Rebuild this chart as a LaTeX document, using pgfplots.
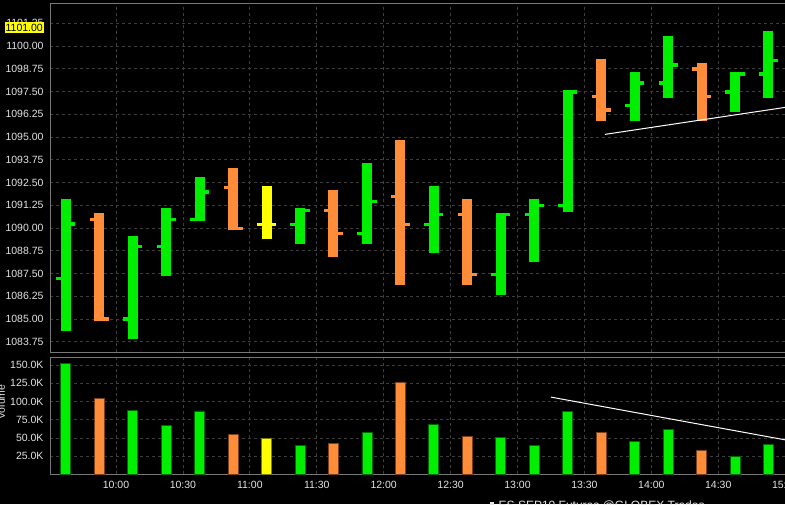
\documentclass[border=0pt]{standalone}
\usepackage{pgfplots}
\pgfplotsset{compat=1.18}
\usepackage{pgfplotstable}
\usepackage{fontspec}
\setmainfont{Liberation Sans}
\definecolor{cgreen}{RGB}{0,238,0}
\definecolor{cgreenD}{RGB}{0,105,0}
\definecolor{corange}{RGB}{255,140,56}
\definecolor{corangeD}{RGB}{125,65,25}
\definecolor{cyellow}{RGB}{255,255,0}
\definecolor{cyellowD}{RGB}{125,125,0}
\definecolor{gridc}{RGB}{62,62,62}
\definecolor{axc}{RGB}{120,120,120}
\definecolor{txt}{RGB}{228,228,228}

% x = minutes after 10:00 (bar centre), lo/hi/o/c = price, v = volume in thousands
\pgfplotstableread{
x lo hi o c v
-22.5 1084.36 1091.57 1087.21 1090.22 152.7
7.5 1083.87 1089.54 1084.98 1088.97 87.2
22.5 1087.33 1091.08 1088.97 1090.46 67.1
37.5 1090.38 1092.79 1090.46 1091.98 87.0
82.5 1089.10 1091.08 1090.20 1090.97 39.6
112.5 1089.10 1093.56 1089.70 1091.46 57.4
142.5 1088.60 1092.29 1090.20 1090.73 68.4
172.5 1086.34 1090.80 1087.44 1090.73 50.6
187.5 1088.11 1091.57 1090.73 1091.23 40.1
202.5 1090.86 1097.58 1091.23 1097.47 85.9
232.5 1095.87 1098.57 1096.73 1097.96 44.6
247.5 1097.14 1100.55 1097.96 1098.95 61.6
277.5 1096.37 1098.57 1097.47 1098.46 24.0
292.5 1097.14 1100.83 1098.46 1099.21 41.4
}\greenbars
\pgfplotstableread{
x lo hi o c v
-7.5 1084.86 1090.80 1090.46 1084.98 104.1
52.5 1089.87 1093.28 1092.22 1089.96 55.2
97.5 1088.38 1092.07 1090.97 1089.70 42.3
127.5 1086.84 1094.82 1091.72 1090.20 126.1
157.5 1086.84 1091.57 1090.73 1087.44 52.4
217.5 1095.87 1099.28 1097.23 1096.49 57.0
262.5 1095.87 1099.06 1098.72 1097.23 32.3
}\orangebars
\pgfplotstableread{
x lo hi o c v
67.5 1089.37 1092.29 1090.20 1090.20 49.2
}\yellowbars

\pgfplotsset{
  chartbase/.style={
    scale only axis, width=736pt, xmin=-29.59, xmax=300.36,
    axis line style={draw=axc, line width=0.8pt},
    grid=major,
    major grid style={draw=gridc, dash pattern=on 3pt off 3pt, line width=0.7pt},
    major tick length=0pt,
    xtick={0,30,...,300},
    tick label style={font=\fontsize{10.5}{12}\selectfont, text=txt},
    /pgf/number format/assume math mode=true,
  },
  hl/.style={draw=none, mark=none, forget plot, error bars/.cd, y dir=plus, y explicit,
    error mark=none, error bar style={line width=10pt, draw=#1, solid}},
  op/.style={draw=none, mark=none, forget plot, error bars/.cd, x dir=minus, x fixed=4.3,
    error mark=none, error bar style={line width=3.5pt, draw=#1, solid}},
  cl/.style={draw=none, mark=none, forget plot, error bars/.cd, x dir=plus, x fixed=4.3,
    error mark=none, error bar style={line width=3.5pt, draw=#1, solid}},
  vb/.style 2 args={ybar, bar width=10pt, bar shift=0pt, fill=#1, draw=#2, line width=0.8pt},
}

\begin{document}
\begin{tikzpicture}
\fill[black] (0,0) rectangle (785pt,504pt);
\useasboundingbox (0,0) rectangle (785pt,504pt);

% ---------- price panel ----------
\begin{axis}[chartbase,
  at={(50pt,152pt)}, anchor=south west, height=349pt,
  ymin=1083.18, ymax=1102.36,
  ytick={1083.75,1085,1086.25,1087.5,1088.75,1090,1091.25,1092.5,1093.75,1095,1096.25,1097.5,1098.75,1100,1101.25},
  /pgf/number format/fixed, /pgf/number format/fixed zerofill,
  /pgf/number format/precision=2, /pgf/number format/1000 sep={},
  yticklabel style={xshift=-3pt},
  xticklabels={},
]
\addplot[hl=cgreen] table[x=x, y=lo, y error expr=\thisrow{hi}-\thisrow{lo}] {\greenbars};
\addplot[op=cgreen] table[x=x, y=o] {\greenbars};
\addplot[cl=cgreen] table[x=x, y=c] {\greenbars};
\addplot[hl=corange] table[x=x, y=lo, y error expr=\thisrow{hi}-\thisrow{lo}] {\orangebars};
\addplot[op=corange] table[x=x, y=o] {\orangebars};
\addplot[cl=corange] table[x=x, y=c] {\orangebars};
\addplot[hl=cyellow] table[x=x, y=lo, y error expr=\thisrow{hi}-\thisrow{lo}] {\yellowbars};
\addplot[op=cyellow] table[x=x, y=o] {\yellowbars};
\addplot[cl=cyellow] table[x=x, y=c] {\yellowbars};
\addplot[white, line width=1pt] coordinates {(219.2,1095.14) (300.36,1096.63)};
\coordinate (lastp) at (axis cs:-29.59,1101);
\end{axis}
\node[fill=cyellow, text=black, inner xsep=1pt, inner ysep=2pt, anchor=east, font=\fontsize{10.5}{12}\selectfont] at ([xshift=-6pt]lastp) {1101.00};

% ---------- volume panel ----------
\begin{axis}[chartbase,
  at={(50pt,29.7pt)}, anchor=south west, height=117.3pt,
  ymin=0, ymax=161.1,
  ytick={25,50,75,100,125,150},
  yticklabels={25.0K,50.0K,75.0K,100.0K,125.0K,150.0K},
  yticklabel style={xshift=-3pt},
  xticklabel style={yshift=-3pt},
  xticklabels={10:00,10:30,11:00,11:30,12:00,12:30,13:00,13:30,14:00,14:30,15:00},
]
\addplot[vb={cgreen}{cgreenD}] table[x=x, y=v] {\greenbars};
\addplot[vb={corange}{corangeD}] table[x=x, y=v] {\orangebars};
\addplot[vb={cyellow}{cyellowD}] table[x=x, y=v] {\yellowbars};
\addplot[white, line width=1pt] coordinates {(195.0,106.0) (300.36,47.1)};
\end{axis}

\node[rotate=90, anchor=base, text=txt, font=\fontsize{10.5}{12}\selectfont] at (5pt,102pt) {Volume};
\node[anchor=base west, inner sep=0pt, text=txt, font=\fontsize{12}{14}\selectfont] at (490pt,-5.4pt) {\raisebox{3pt}{\rule{4pt}{4pt}}\hspace{4.5pt}ES SEP10 Futures @GLOBEX Trades};
\end{tikzpicture}
\end{document}
